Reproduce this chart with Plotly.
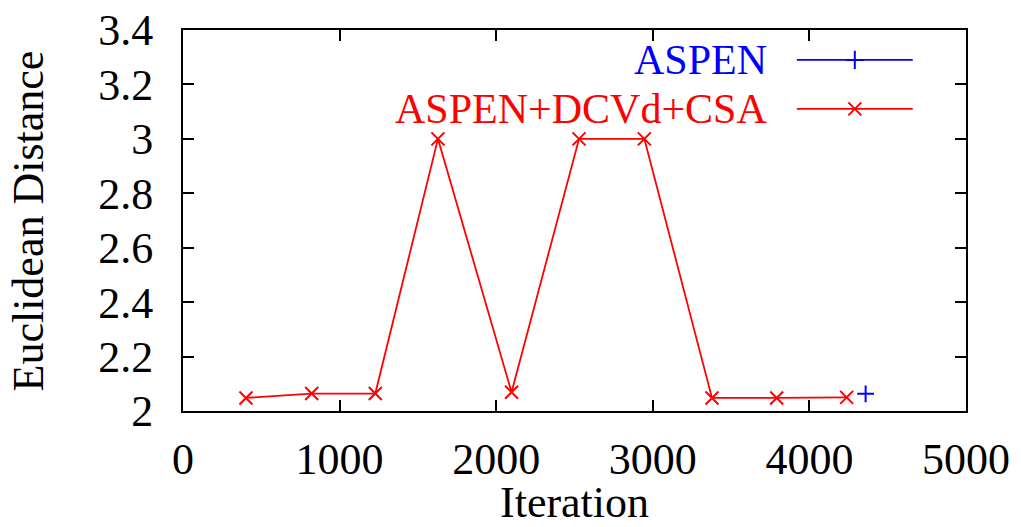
import plotly.graph_objects as go

# Data
csa_iter = [402, 822, 1228, 1628, 2098, 2529, 2946, 3378, 3791, 4238]
csa_dist = [2.048, 2.064, 2.064, 3.0, 2.069, 3.0, 3.0, 2.048, 2.048, 2.05]
aspen_iter = [4359]
aspen_dist = [2.063]

x_ticks = [0, 1000, 2000, 3000, 4000, 5000]
y_ticks = [2, 2.2, 2.4, 2.6, 2.8, 3, 3.2, 3.4]
y_labels = ["2", "2.2", "2.4", "2.6", "2.8", "3", "3.2", "3.4"]

series_names = ["ASPEN", "ASPEN+DCVd+CSA"]
series_colors = ["#0000FF", "#FF0000"]
series_symbols = ["cross-thin", "x-thin"]

FONT = "Liberation Serif, Times New Roman, serif"
FS = 44
KEY_FS = 42

fig = go.Figure()
fig.add_trace(go.Scatter(
    x=aspen_iter, y=aspen_dist, mode="lines+markers",
    line=dict(color=series_colors[0], width=1.5),
    marker=dict(symbol=series_symbols[0], size=12, line=dict(width=2, color=series_colors[0])),
    showlegend=False, cliponaxis=False))
fig.add_trace(go.Scatter(
    x=csa_iter, y=csa_dist, mode="lines+markers",
    line=dict(color=series_colors[1], width=1.8),
    marker=dict(symbol=series_symbols[1], size=13, line=dict(width=2, color=series_colors[1])),
    showlegend=False, cliponaxis=False))

# manual gnuplot-style key (text left, sample right)
key_rows = [0.9214, 0.7929]
for name, col, sym, ky in zip(series_names, series_colors, series_symbols, key_rows):
    fig.add_annotation(x=0.747, y=ky, xref="paper", yref="paper", text=name,
                       showarrow=False, xanchor="right", yanchor="middle",
                       borderpad=0,
                       font=dict(family=FONT, size=KEY_FS, color=col))
    fig.add_shape(type="line", xref="paper", yref="paper", x0=0.784, x1=0.932,
                  y0=ky, y1=ky, line=dict(color=col, width=1.8))
    fig.add_trace(go.Scatter(x=[0.858], y=[ky], xaxis="x2", yaxis="y2", mode="markers",
                             marker=dict(symbol=sym, size=13, line=dict(width=2, color=col)),
                             showlegend=False, cliponaxis=False, hoverinfo="skip"))

# axis titles as annotations for precise placement
fig.add_annotation(x=0.5, y=-0.24, xref="paper", yref="paper", text="Iteration",
                   showarrow=False, xanchor="center", yanchor="middle",
                   font=dict(family=FONT, size=FS, color="black"))
fig.add_annotation(x=-0.1967, y=0.5, xref="paper", yref="paper", text="Euclidean Distance",
                   showarrow=False, xanchor="center", yanchor="middle", textangle=-90,
                   font=dict(family=FONT, size=FS, color="black"))

axis_common = dict(showline=True, linecolor="black", linewidth=2, mirror="ticks",
                   ticks="inside", ticklen=11, tickwidth=1.5, tickcolor="black",
                   showgrid=False, zeroline=False, automargin=False,
                   tickfont=dict(family=FONT, size=FS, color="black"))

fig.update_layout(
    width=1021, height=527,
    margin=dict(l=183, r=55, t=30, b=115.5, autoexpand=False),
    paper_bgcolor="white", plot_bgcolor="white",
    xaxis=dict(range=[0, 5000], tickvals=x_ticks, ticklabelstandoff=8, **axis_common),
    yaxis=dict(range=[2, 3.4], tickvals=y_ticks, ticktext=y_labels, ticklabelstandoff=19,
               **axis_common),
    xaxis2=dict(range=[0, 1], overlaying="x", visible=False),
    yaxis2=dict(range=[0, 1], overlaying="y", visible=False),
)

fig.write_html("out.html")
